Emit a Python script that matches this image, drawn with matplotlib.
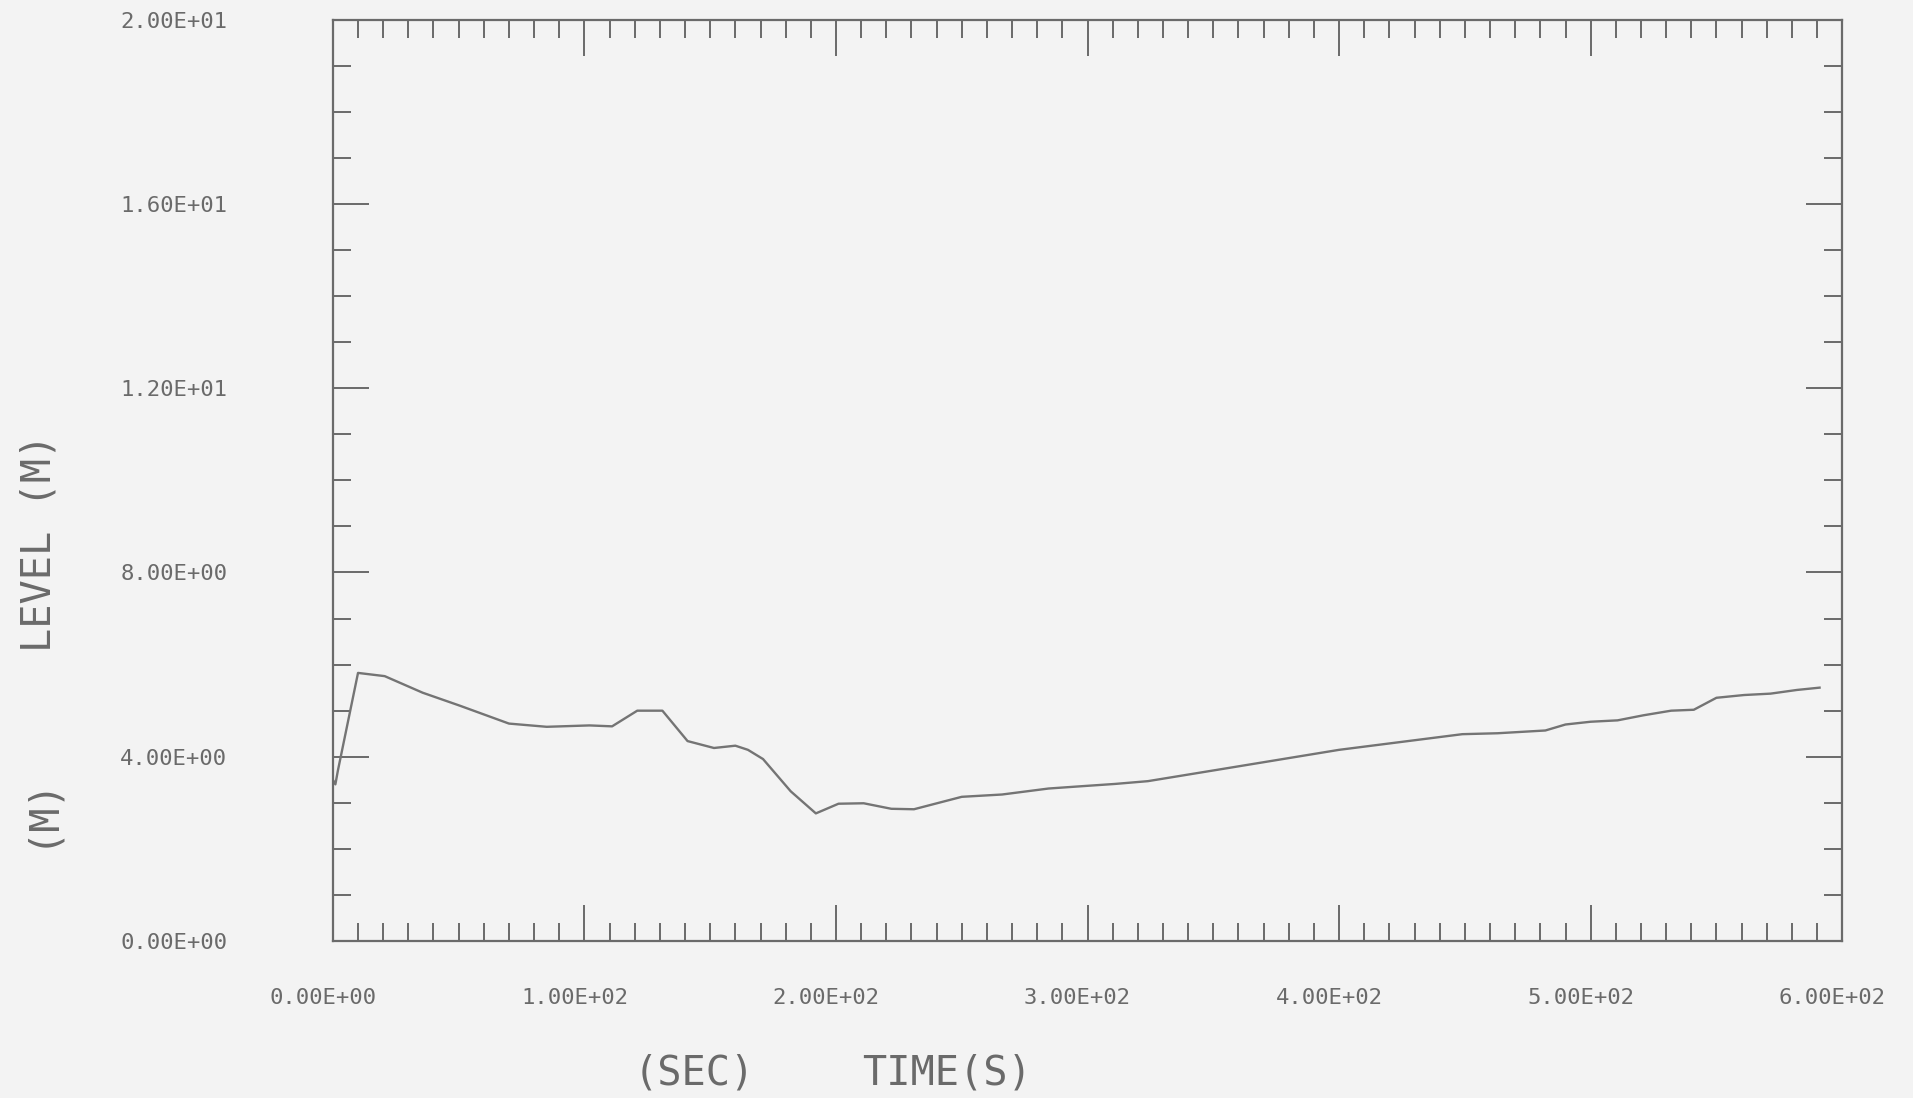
import matplotlib
matplotlib.use("Agg")
import matplotlib.pyplot as plt
import matplotlib.transforms as mtransforms
from matplotlib.ticker import MultipleLocator, FuncFormatter

# level history
time_s = [0, 1, 2, 10, 20.6, 35.7, 50.4, 70, 85, 102, 111, 121, 131, 141,
          151.5, 160, 165, 171, 182, 192, 201, 211, 222, 231, 250, 266,
          284.5, 297.6, 311, 324, 352, 400, 449, 463, 482, 490, 500, 510.7,
          521, 532, 541, 550, 561, 571.5, 582, 591]
level_m = [3.5, 3.4, 3.7, 5.82, 5.75, 5.39, 5.11, 4.72, 4.65, 4.68, 4.66,
           5.0, 5.0, 4.34, 4.19, 4.24, 4.15, 3.95, 3.25, 2.77, 2.98, 2.99,
           2.87, 2.86, 3.13, 3.18, 3.31, 3.36, 3.41, 3.47, 3.72, 4.15, 4.49,
           4.51, 4.57, 4.70, 4.76, 4.79, 4.90, 5.0, 5.02, 5.28, 5.34, 5.37,
           5.45, 5.50]

bg = "#f3f3f3"
ink = "#6a6a6a"
mono = "DejaVu Sans Mono"

fig = plt.figure(figsize=(19.13, 10.98), dpi=100, facecolor=bg)
ax = fig.add_axes([0.174, 0.143, 0.789, 0.839], facecolor=bg)

ax.plot(time_s, level_m, color="#747474", lw=1.7)

ax.set_xlim(0, 600)
ax.set_ylim(0, 20)
ax.xaxis.set_major_locator(MultipleLocator(100))
ax.xaxis.set_minor_locator(MultipleLocator(10))
ax.yaxis.set_major_locator(MultipleLocator(4))
ax.yaxis.set_minor_locator(MultipleLocator(1))
fmt = FuncFormatter(lambda v, p: f"{v:.2E}")
ax.xaxis.set_major_formatter(fmt)
ax.yaxis.set_major_formatter(fmt)

for s in ax.spines.values():
    s.set_color(ink)
    s.set_linewidth(1.6)

ax.tick_params(which="both", direction="in", top=True, right=True,
               color=ink, width=1.4, labelcolor=ink)
ax.tick_params(which="major", length=26)
ax.tick_params(which="minor", length=13)
ax.tick_params(axis="y", which="major", pad=76)
ax.tick_params(axis="x", which="major", pad=34)

for lab in ax.get_xticklabels() + ax.get_yticklabels():
    lab.set_fontfamily(mono)
    lab.set_fontsize(16)

shift = mtransforms.ScaledTranslation(-10 / 100, 0, fig.dpi_scale_trans)
for lab in ax.get_xticklabels():
    lab.set_transform(lab.get_transform() + shift)

fig.text(40 / 1913, 1 - 543 / 1098, "LEVEL (M)", rotation=90, ha="center",
         va="center", fontsize=29, family=mono, color=ink)
fig.text(40 / 1913, 1 - 811 / 1098, "(M)", rotation=90, ha="center",
         va="center", fontsize=29, family=mono, color=ink)
fig.text(694 / 1913, 1 - 1074 / 1098, "(SEC)", ha="center", va="center",
         fontsize=29, family=mono, color=ink)
fig.text(947 / 1913, 1 - 1074 / 1098, "TIME(S)", ha="center", va="center",
         fontsize=29, family=mono, color=ink)

fig.savefig("out.png", dpi=100, facecolor=bg)
